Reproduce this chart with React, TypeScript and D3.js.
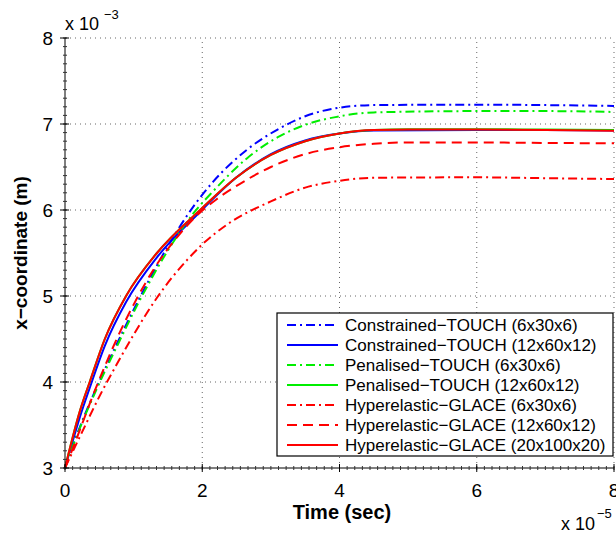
import React from "react";
import * as d3 from "d3";

// time in 1e-5 s, x-coordinate in 1e-3 m
const xTicks = [0, 2, 4, 6, 8];
const yTicks = [3, 4, 5, 6, 7, 8];

const seriesNames = [
  "Constrained\u2212TOUCH (6x30x6)",
  "Constrained\u2212TOUCH (12x60x12)",
  "Penalised\u2212TOUCH (6x30x6)",
  "Penalised\u2212TOUCH (12x60x12)",
  "Hyperelastic\u2212GLACE (6x30x6)",
  "Hyperelastic\u2212GLACE (12x60x12)",
  "Hyperelastic\u2212GLACE (20x100x20)",
];
const seriesColors = ["#0000ff", "#0000ff", "#00ee00", "#00ee00", "#ff0000", "#ff0000", "#ff0000"];
const seriesDash = ["9,4,2,4", null, "9,4,2,4", null, "9,4,2,4", "10,6", null];

const constrained6: [number, number][] = [
  [0, 3], [0.17, 3.38], [0.44, 3.9], [0.76, 4.45], [1.07, 4.95], [1.5, 5.58], [1.87, 6.04],
  [2.16, 6.33], [2.65, 6.7], [3.13, 6.95], [3.5, 7.09], [4, 7.19], [4.5, 7.22], [6, 7.225],
  [7, 7.22], [8, 7.21],
];
const constrained12: [number, number][] = [
  [0, 3], [0.1, 3.28], [0.22, 3.6], [0.36, 3.93], [0.58, 4.42], [0.89, 4.93], [1.34, 5.45],
  [1.97, 5.98], [2.5, 6.38], [3, 6.65], [3.5, 6.81], [4, 6.89], [4.5, 6.925], [6, 6.93],
  [7, 6.93], [8, 6.925],
];
const penalised6: [number, number][] = [
  [0, 3], [0.17, 3.37], [0.44, 3.88], [0.76, 4.42], [1.07, 4.92], [1.5, 5.53], [1.87, 5.96],
  [2.16, 6.22], [2.65, 6.6], [3.13, 6.86], [3.5, 6.99], [4, 7.09], [4.5, 7.135], [6, 7.15],
  [7, 7.15], [8, 7.14],
];
const penalised12: [number, number][] = [
  [0, 3], [0.1, 3.32], [0.22, 3.67], [0.36, 4.0], [0.58, 4.5], [0.89, 5.0], [1.34, 5.5],
  [1.97, 6.0], [2.5, 6.38], [3, 6.64], [3.5, 6.8], [4, 6.89], [4.5, 6.93], [5, 6.94],
  [6, 6.94], [7, 6.935], [8, 6.93],
];
const hyper6: [number, number][] = [
  [0, 3], [0.1, 3.17], [0.25, 3.42], [0.5, 3.83], [0.75, 4.2], [1.0, 4.55], [1.34, 4.98],
  [1.78, 5.42], [2.0, 5.6], [2.36, 5.83], [3, 6.1], [3.5, 6.26], [4, 6.34], [4.5, 6.375],
  [6, 6.38], [7, 6.37], [8, 6.36],
];
const hyper12: [number, number][] = [
  [0, 3], [0.1, 3.2], [0.22, 3.45], [0.4, 3.83], [0.6, 4.22], [0.8, 4.58], [1.0, 4.9],
  [1.3, 5.32], [1.65, 5.7], [1.9, 5.92], [2.2, 6.12], [2.5, 6.28], [3, 6.5], [3.5, 6.65],
  [4, 6.73], [4.5, 6.77], [5, 6.785], [6, 6.785], [7, 6.78], [8, 6.775],
];
const hyper20: [number, number][] = [
  [0, 3], [0.1, 3.32], [0.22, 3.67], [0.36, 4.0], [0.58, 4.5], [0.89, 5.0], [1.34, 5.5],
  [1.97, 6.0], [2.5, 6.38], [3, 6.64], [3.5, 6.8], [4, 6.89], [4.5, 6.93], [5, 6.935],
  [6, 6.935], [7, 6.93], [8, 6.92],
];
const seriesData = [constrained6, constrained12, penalised6, penalised12, hyper6, hyper12, hyper20];

const W = 616, H = 537;
const L = 65, R = 614, T = 38, B = 468;

export default function App() {
  const x = d3.scaleLinear().domain([0, 8]).range([L, R]);
  const y = d3.scaleLinear().domain([3, 8]).range([B, T]);
  const line = d3.line<[number, number]>().x(d => x(d[0])).y(d => y(d[1])).curve(d3.curveMonotoneX);
  const xMinor = d3.range(0, 8 * 9 + 1).map(i => i / 9);
  const yMinor = d3.range(0, 51).map(i => 3 + i / 10);
  const font = "'Liberation Sans', Arial, Helvetica, sans-serif";

  const legX = 277, legY = 313, legW = 336, legH = 143, rowH = 20;

  return (
    <svg width={W} height={H} style={{ position: "absolute", left: 0, top: 0, background: "#fff" }} fontFamily={font}>
      <rect x={0} y={0} width={W} height={H} fill="#fff" />
      {/* grid */}
      {xTicks.slice(1).map(t => (
        <line key={"gx" + t} x1={x(t)} x2={x(t)} y1={B} y2={T} stroke="#666" strokeWidth={1} strokeDasharray="1,4" />
      ))}
      {yTicks.slice(1).map(t => (
        <line key={"gy" + t} x1={L} x2={R} y1={y(t)} y2={y(t)} stroke="#666" strokeWidth={1} strokeDasharray="1,4" />
      ))}
      {/* series */}
      {seriesData.map((d, i) => (
        <path key={"s" + i} d={line(d) || ""} fill="none" stroke={seriesColors[i]} strokeWidth={2}
          strokeDasharray={seriesDash[i] || undefined} />
      ))}
      {/* axes */}
      <line x1={L} x2={L} y1={T} y2={B} stroke="#000" strokeWidth={1} />
      <line x1={L} x2={R} y1={B} y2={B} stroke="#000" strokeWidth={1} />
      {xMinor.map((t, i) => (
        <line key={"xm" + i} x1={x(t)} x2={x(t)} y1={B - 2} y2={B + 2} stroke="#333" strokeWidth={1} />
      ))}
      {yMinor.map((t, i) => (
        <line key={"ym" + i} x1={L - 2} x2={L + 2} y1={y(t)} y2={y(t)} stroke="#333" strokeWidth={1} />
      ))}
      {xTicks.map(t => (
        <g key={"xt" + t}>
          <line x1={x(t)} x2={x(t)} y1={B - 4} y2={B + 4} stroke="#000" strokeWidth={1} />
          <text x={x(t)} y={497} textAnchor="middle" fontSize={19} fill="#000">{t}</text>
        </g>
      ))}
      {yTicks.map(t => (
        <g key={"yt" + t}>
          <line x1={L - 5} x2={L + 4} y1={y(t)} y2={y(t)} stroke="#000" strokeWidth={1} />
          <text x={53} y={y(t) + 7} textAnchor="end" fontSize={19} fill="#000">{t}</text>
        </g>
      ))}
      {/* exponent labels */}
      <text x={65} y={30} fontSize={18} fill="#000">x 10</text>
      <text x={104} y={19} fontSize={13} fill="#000">{"\u22123"}</text>
      <text x={561} y={530} fontSize={18} fill="#000">x 10</text>
      <text x={597} y={518} fontSize={13} fill="#000">{"\u22125"}</text>
      {/* axis titles */}
      <text x={342} y={519} textAnchor="middle" fontSize={20} fontWeight="bold" fill="#000">Time (sec)</text>
      <text transform={`translate(27,${(T + B) / 2}) rotate(-90)`} textAnchor="middle" fontSize={19} fontWeight="bold" fill="#000">
        {"x\u2212coordinate (m)"}
      </text>
      {/* legend */}
      <rect x={legX} y={legY} width={legW} height={legH} fill="#fff" stroke="#000" strokeWidth={1.2} />
      {seriesNames.map((n, i) => {
        const cy = legY + 12 + i * rowH;
        return (
          <g key={"lg" + i}>
            <line x1={287} x2={338} y1={cy} y2={cy} stroke={seriesColors[i]} strokeWidth={2}
              strokeDasharray={seriesDash[i] || undefined} />
            <text x={345} y={cy + 6} fontSize={17} fill="#000">{n}</text>
          </g>
        );
      })}
    </svg>
  );
}
